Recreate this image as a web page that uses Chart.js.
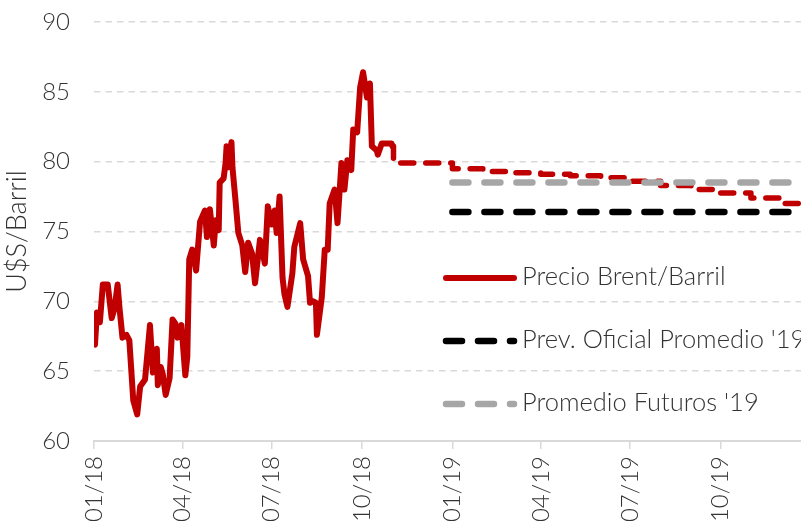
<!DOCTYPE html>
<html>
<head>
<meta charset="utf-8">
<script src="https://cdn.jsdelivr.net/npm/chart.js@4.4.1/dist/chart.umd.min.js"></script>
<style>
  html, body { margin: 0; padding: 0; background: #fff; overflow: hidden; }
  #wrap { width: 801px; height: 521px; }
</style>
</head>
<body>
<div id="wrap"><canvas id="brentChart" width="801" height="521"></canvas></div>
<script>
// Precio Brent 2018
const brentDates = [
  '2018-01-02', '2018-01-04', '2018-01-07', '2018-01-10', '2018-01-15', '2018-01-19', '2018-01-22', '2018-01-25',
  '2018-01-27', '2018-01-30', '2018-02-03', '2018-02-06', '2018-02-10', '2018-02-14', '2018-02-17', '2018-02-22',
  '2018-02-27', '2018-03-02', '2018-03-06', '2018-03-07', '2018-03-10', '2018-03-12', '2018-03-15', '2018-03-19',
  '2018-03-22', '2018-03-25', '2018-03-27', '2018-03-31', '2018-04-04', '2018-04-06', '2018-04-08', '2018-04-11',
  '2018-04-15', '2018-04-19', '2018-04-24', '2018-04-26', '2018-04-29', '2018-05-03', '2018-05-05', '2018-05-08',
  '2018-05-09', '2018-05-13', '2018-05-15', '2018-05-16', '2018-05-18', '2018-05-21', '2018-05-22', '2018-05-25',
  '2018-05-28', '2018-06-01', '2018-06-04', '2018-06-07', '2018-06-11', '2018-06-14', '2018-06-19', '2018-06-24',
  '2018-06-27', '2018-07-01', '2018-07-04', '2018-07-06', '2018-07-09', '2018-07-12', '2018-07-14', '2018-07-17',
  '2018-07-22', '2018-07-24', '2018-07-30', '2018-08-02', '2018-08-07', '2018-08-09', '2018-08-12', '2018-08-15',
  '2018-08-16', '2018-08-21', '2018-08-24', '2018-08-27', '2018-08-29', '2018-09-03', '2018-09-06', '2018-09-10',
  '2018-09-13', '2018-09-16', '2018-09-20', '2018-09-22', '2018-09-26', '2018-09-29', '2018-10-02', '2018-10-06',
  '2018-10-09', '2018-10-11', '2018-10-16', '2018-10-17', '2018-10-21', '2018-10-31', '2018-11-01'
];
const brentValues = [
  66.9, 69.2, 68.5, 71.2, 71.2, 68.8, 69.5, 71.2,
  69.5, 67.4, 67.6, 67.2, 62.9, 61.9, 63.9, 64.4,
  68.3, 64.9, 66.6, 64.0, 65.3, 64.8, 63.3, 64.5,
  68.7, 68.4, 67.4, 68.3, 64.7, 66.0, 73.0, 73.7,
  72.2, 75.7, 76.5, 74.6, 76.6, 74.0, 75.8, 75.1,
  78.5, 78.8, 79.9, 81.1, 79.6, 81.4, 79.6, 77.3,
  74.9, 74.0, 72.1, 74.2, 73.4, 71.3, 74.4, 72.7,
  76.8, 75.5, 76.5, 74.9, 77.5, 71.7, 70.5, 69.6,
  72.0, 73.9, 75.6, 73.0, 71.8, 69.9, 70.0, 69.9,
  67.6, 70.3, 73.7, 73.7, 77.0, 78.0, 75.6, 79.9,
  78.0, 80.1, 79.4, 82.3, 82.1, 85.3, 86.4, 84.6,
  85.6, 81.1, 80.8, 80.5, 81.3, 81.3, 81.1
];

// Curva proyectada (punteada roja)
const forecastDates = [
  '2018-11-01', '2018-11-02', '2019-01-01', '2019-02-01', '2019-03-01', '2019-04-01', '2019-05-01',
  '2019-06-01', '2019-07-01', '2019-08-01', '2019-09-01', '2019-10-01', '2019-11-01', '2019-12-01', '2019-12-31'
];
const forecastValues = [
  81.1, 79.9, 79.5, 79.3, 79.2, 79.1, 79.0,
  78.85, 78.6, 78.3, 78.0, 77.75, 77.4, 77.0, 77.0
];

// Promedios 2019
const averageDates = ['2019-01-01', '2019-12-31'];
const officialValues = [76.4, 76.4];
const futuresValues = [78.5, 78.5];

const seriesNames = ['Precio Brent/Barril', "Prev. Oficial Promedio '19", "Promedio Futuros '19"];

const tickDates = ['2018-01-01', '2018-04-01', '2018-07-01', '2018-10-01', '2019-01-01', '2019-04-01', '2019-07-01', '2019-10-01'];
const tickLabels = ['01/18', '04/18', '07/18', '10/18', '01/19', '04/19', '07/19', '10/19'];
const axisStart = '2018-01-01';
const axisEnd = '2019-12-22';

const dayOf = s => (Date.parse(s) - Date.parse(axisStart)) / 864e5;
const toPoints = (dates, values) => dates.map((d, i) => ({ x: dayOf(d), y: values[i] }));

const FONT = 'Lato, "Open Sans", sans-serif';
const TEXT = '#333333';
const GRID = '#d9d9d9';

const insideLegend = {
  id: 'insideLegend',
  afterDatasetsDraw(chart, args, opts) {
    const ctx = chart.ctx;
    ctx.save();
    opts.items.forEach(item => {
      const ds = chart.data.datasets[item.dataset];
      ctx.beginPath();
      ctx.lineWidth = ds.borderWidth;
      ctx.strokeStyle = ds.borderColor;
      ctx.lineCap = ds.borderCapStyle || 'butt';
      ctx.setLineDash(ds.borderDash || []);
      ctx.moveTo(opts.x0, item.y);
      ctx.lineTo(opts.x1, item.y);
      ctx.stroke();
      ctx.setLineDash([]);
      ctx.fillStyle = TEXT;
      ctx.font = '300 25.5px ' + FONT;
      ctx.textBaseline = 'middle';
      ctx.fillText(ds.label, opts.textX, item.y - 1);
    });
    ctx.restore();
  }
};

new Chart(document.getElementById('brentChart'), {
  type: 'line',
  data: {
    datasets: [
      {
        label: seriesNames[2],
        data: toPoints(averageDates, futuresValues),
        borderColor: '#a6a6a6',
        borderWidth: 6.5,
        borderDash: [16, 16],
        borderCapStyle: 'round',
        pointRadius: 0
      },
      {
        label: seriesNames[1],
        data: toPoints(averageDates, officialValues),
        borderColor: '#000000',
        borderWidth: 6.5,
        borderDash: [16, 16],
        borderCapStyle: 'round',
        pointRadius: 0
      },
      {
        label: 'Proyeccion',
        data: toPoints(forecastDates, forecastValues),
        borderColor: '#c00000',
        borderWidth: 5.5,
        borderDash: [13, 12],
        borderCapStyle: 'round',
        borderJoinStyle: 'round',
        stepped: true,
        pointRadius: 0
      },
      {
        label: seriesNames[0],
        data: toPoints(brentDates, brentValues),
        borderColor: '#c00000',
        borderWidth: 6,
        borderJoinStyle: 'round',
        borderCapStyle: 'round',
        pointRadius: 0,
        tension: 0
      }
    ]
  },
  options: {
    responsive: false,
    animation: false,
    layout: { padding: { top: 22, right: 0, left: 0, bottom: 0 } },
    plugins: {
      legend: { display: false },
      tooltip: { enabled: false },
      insideLegend: {
        x0: 446, x1: 514, textX: 522,
        items: [
          { dataset: 3, y: 278 },
          { dataset: 1, y: 341 },
          { dataset: 0, y: 404 }
        ]
      }
    },
    scales: {
      x: {
        type: 'linear',
        min: 0,
        max: dayOf(axisEnd),
        afterBuildTicks: axis => {
          axis.ticks = tickDates.map(d => ({ value: dayOf(d) }));
        },
        afterFit: axis => { axis.height = 80; },
        ticks: {
          autoSkip: false,
          maxRotation: 90,
          minRotation: 90,
          padding: 7,
          color: TEXT,
          font: { family: FONT, size: 24, weight: '300' },
          callback: (value, index) => tickLabels[index]
        },
        grid: {
          drawOnChartArea: false,
          drawTicks: true,
          tickLength: 8,
          color: GRID,
          lineWidth: 1.5
        },
        border: { display: true, color: GRID, width: 2 }
      },
      y: {
        min: 60,
        max: 90,
        afterFit: axis => {
          axis.width = 94;
          axis.paddingTop = 0;
          axis.paddingBottom = 0;
        },
        ticks: {
          stepSize: 5,
          padding: 24,
          color: TEXT,
          font: { family: FONT, size: 24, weight: '300' }
        },
        title: {
          display: true,
          text: 'U$S/Barril',
          color: TEXT,
          padding: 1,
          font: { family: FONT, size: 27, weight: '300' }
        },
        grid: {
          drawTicks: false,
          color: GRID,
          lineWidth: 1.5
        },
        border: { display: false, dash: [6.5, 5] }
      }
    }
  },
  plugins: [insideLegend]
});
</script>
</body>
</html>
